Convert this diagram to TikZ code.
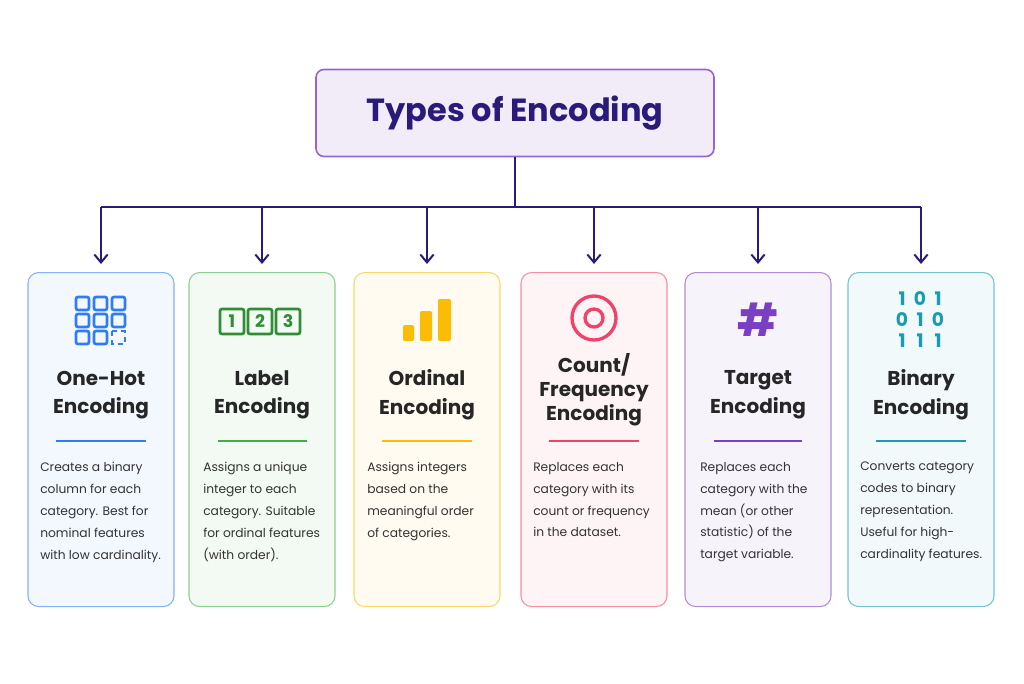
\documentclass[tikz,border=0pt]{standalone}
\usepackage{fontspec}
\setmainfont{Poppins}
\usetikzlibrary{arrows.meta,positioning}
\definecolor{navy}{HTML}{2A1B7A}
\definecolor{cblue}{HTML}{2F7DF6}
\definecolor{cgreen}{HTML}{3CB043}
\definecolor{corange}{HTML}{FBBC05}
\definecolor{cpink}{HTML}{F0436A}
\definecolor{cpurple}{HTML}{7B3FC4}
\definecolor{cteal}{HTML}{1A9BB0}
\tikzset{
    card/.style={draw=#1!60,fill=#1!6,rounded corners=8pt,line width=0.8pt,minimum width=146*0.75pt,minimum height=334*0.75pt,anchor=north},
    ctitle/.style={font=\bfseries\fontsize{15}{21.5}\selectfont,align=center,text=black!85},
    cdesc/.style={font=\fontsize{9.2}{16.4}\selectfont,align=left,anchor=north west,text=black!80,inner sep=0pt},
    divider/.style={#1,line width=0.8pt},
    branch/.style={navy,line width=1.5pt},
    tip/.style={branch,-{Straight Barb[length=6pt,width=10pt]}},
    bit/.style={text=cteal,font=\bfseries\fontsize{14}{14}\selectfont,inner sep=0pt}
}
\begin{document}
\begin{tikzpicture}[x=0.75pt,y=-0.75pt]
\useasboundingbox (0,0) rectangle (1024,683);
% title
\node[draw=cpurple!80,fill=cpurple!10,rounded corners=6pt,line width=1.2pt,minimum width=398*0.75pt,minimum height=87*0.75pt,
  font=\bfseries\fontsize{24}{30}\selectfont,text=navy] (title) at (515,113) {Types of Encoding};
% cards
\node[card=cblue] (onehot) at (101,272) {};
\node[card=cgreen] (label) at (262,272) {};
\node[card=corange] (ordinal) at (427,272) {};
\node[card=cpink] (count) at (594,272) {};
\node[card=cpurple] (target) at (758,272) {};
\node[card=cteal] (binary) at (921,272) {};
% connectors
\coordinate (hub) at (515,207);
\draw[branch] (title.south) -- (hub);
\draw[branch] (onehot.north |- hub) -- (binary.north |- hub);
\foreach \c in {onehot,label,ordinal,count,target,binary}
  \draw[tip] (\c.north |- hub) -- ([yshift=8*0.75pt]\c.north);
% icons
\foreach \i in {0,1,2} \foreach \j in {0,1,2} {
  \ifnum\i\j=22 \else
  \draw[cblue,line width=2pt,rounded corners=1.5pt] (76+\i*18,297+\j*17) rectangle ++(13,13);
  \fi}
\draw[cblue,line width=2pt,dash pattern=on 4pt off 3pt] (112,331) rectangle ++(13,13);
\foreach \n in {1,2,3}
  \draw[cgreen!80!black,line width=2pt,rounded corners=1.5pt] (220+\n*28-28,309) rectangle ++(24,25)
    node[midway,font=\bfseries\fontsize{13}{13}\selectfont] {\n};
\fill[corange,rounded corners=1.5pt] (403,325) rectangle (414,341);
\fill[corange,rounded corners=1.5pt] (420,311) rectangle (432,341);
\fill[corange,rounded corners=1.5pt] (438,299) rectangle (451,341);
\draw[cpink,line width=2.5pt] (594,318) circle (22) (594,318) circle (9);
\node[text=cpurple,font=\bfseries\fontsize{34}{34}\selectfont] at (758,320) {\#};
\foreach \b [count=\k from 0] in {1,0,1,0,1,0,1,1,1}
  \node[bit] at ({902+mod(\k,3)*18},{299+int(\k/3)*21}) {\b};
% titles
\node[ctitle] at (101,395) {One-Hot\\Encoding};
\node[ctitle] at (262,395) {Label\\Encoding};
\node[ctitle] at (427,395) {Ordinal\\Encoding};
\node[ctitle,font=\bfseries\fontsize{15}{18}\selectfont] at (594,390) {Count/\\Frequency\\Encoding};
\node[ctitle] at (758,395) {Target\\Encoding};
\node[ctitle] at (921,395) {Binary\\Encoding};
% dividers
\draw[divider=cblue] (56,441) -- (146,441);
\draw[divider=cgreen] (218,441) -- (307,441);
\draw[divider=corange] (382,441) -- (472,441);
\draw[divider=cpink] (549,441) -- (639,441);
\draw[divider=cpurple] (714,441) -- (802,441);
\draw[divider=cteal] (876,441) -- (966,441);
% descriptions
\node[cdesc] at (40,462) {Creates a binary\\column for each\\category. Best for\\nominal features\\with low cardinality.};
\node[cdesc] at (203,462) {Assigns a unique\\integer to each\\category. Suitable\\for ordinal features\\(with order).};
\node[cdesc] at (367,462) {Assigns integers\\based on the\\meaningful order\\of categories.};
\node[cdesc] at (533,462) {Replaces each\\category with its\\count or frequency\\in the dataset.};
\node[cdesc] at (700,462) {Replaces each\\category with the\\mean (or other\\statistic) of the\\target variable.};
\node[cdesc] at (860,462) {Converts category\\codes to binary\\representation.\\Useful for high-\\cardinality features.};
\end{tikzpicture}
\end{document}
